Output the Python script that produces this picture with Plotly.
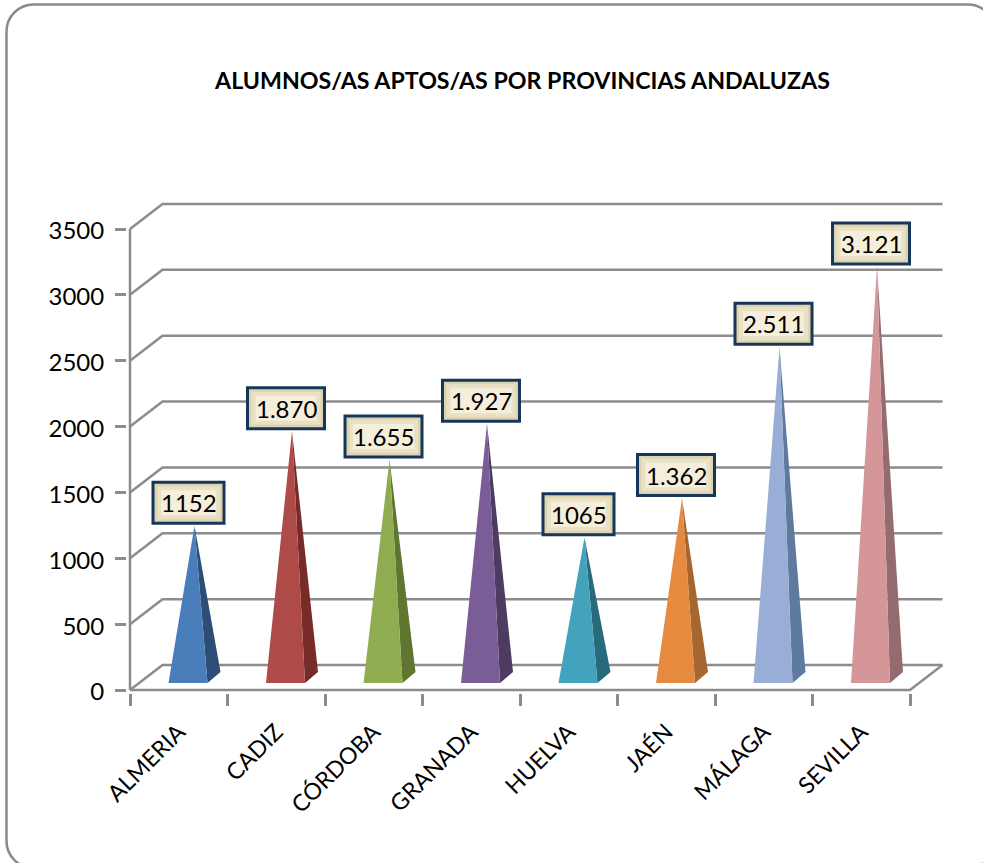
import plotly.graph_objects as go

provinces = ["ALMERIA", "CADIZ", "CÓRDOBA", "GRANADA", "HUELVA", "JAÉN", "MÁLAGA", "SEVILLA"]
aptos = [1152, 1870, 1655, 1927, 1065, 1362, 2511, 3121]
value_labels = ["1152", "1.870", "1.655", "1.927", "1065", "1.362", "2.511", "3.121"]
y_ticks = [0, 500, 1000, 1500, 2000, 2500, 3000, 3500]

front_colors = ["#4a7ebb", "#ae4a47", "#8fad50", "#7a5c97", "#43a3bd", "#e68a3f", "#98aed6", "#d49698"]
side_colors = ["#2c4d75", "#772c2a", "#5f7530", "#4d3b62", "#276a7c", "#a5672f", "#5f7a9f", "#946c6d"]

W, H = 983, 863
FONT = "Lato"
GRID = "#8c8c8c"

# plot box in pixels, the axes map onto it (3px spare so lines are not clipped)
LEFT, RIGHT, BOTTOM, TOP = 130, 943, 690, 204
PAD = 3
PX_X = 97.5            # one category
PX_Y = 461 / 3500      # one unit of value

# wall depth
DEPTH_X = 32.5 / PX_X
DEPTH_Y = 25 / PX_Y
N = len(provinces)

# pyramid base inside a category
BASE_LEFT = 38.5 / PX_X
BASE_W = 39 / PX_X
BASE_DX = 13 / PX_X
BASE_RAISE = 7 / PX_Y
BASE_DY = 11 / PX_Y

fig = go.Figure()

# back wall grid and floor
grid_x, grid_y = [], []
for t in y_ticks:
    grid_x += [0, DEPTH_X, N + DEPTH_X, None]
    grid_y += [t, t + DEPTH_Y, t + DEPTH_Y, None]
grid_x += [N + DEPTH_X, N, 0, None, 0, 0]
grid_y += [DEPTH_Y, 0, 0, None, 0, y_ticks[-1]]
fig.add_trace(go.Scatter(x=grid_x, y=grid_y, mode="lines", line=dict(color=GRID, width=2.5),
                         hoverinfo="skip", showlegend=False))

apex_x, apex_y = [], []
for i, v in enumerate(aptos):
    x0 = i + BASE_LEFT
    x1 = x0 + BASE_W
    x2 = x1 + BASE_DX
    y0 = BASE_RAISE
    y2 = y0 + BASE_DY
    ax = (x0 + x2) / 2
    ay = v + y0 + BASE_DY / 2
    apex_x.append(ax)
    apex_y.append(ay)
    fig.add_trace(go.Scatter(x=[x1, x2, ax, x1], y=[y0, y2, ay, y0], mode="lines", fill="toself",
                             fillcolor=side_colors[i], line=dict(width=0), name=provinces[i],
                             hoverinfo="skip", showlegend=False))
    fig.add_trace(go.Scatter(x=[x0, x1, ax, x0], y=[y0, y0, ay, y0], mode="lines", fill="toself",
                             fillcolor=front_colors[i], line=dict(width=0), name=provinces[i],
                             text=str(v), hoverinfo="text", showlegend=False))

# value labels: bevelled boxes anchored on the apex
for i, lab in enumerate(value_labels):
    half_w = 35.5 if "." not in lab else 38.5
    cx, cy = -6, 23
    rings = [(0, "#ddd3ae", "#17365d", 3), (4, "#e9e1c4", None, 0), (8, "#f4eedb", None, 0)]
    for inset, fill, line, lw in rings:
        fig.add_shape(type="rect", xref="x", yref="y", xsizemode="pixel", ysizemode="pixel",
                      xanchor=apex_x[i], yanchor=apex_y[i],
                      x0=cx - half_w + inset, x1=cx + half_w - inset,
                      y0=cy - 20.5 + inset, y1=cy + 20.5 - inset,
                      fillcolor=fill, line=dict(color=line, width=lw), layer="above")
    fig.add_annotation(x=apex_x[i], y=apex_y[i], xref="x", yref="y", text=lab, showarrow=False,
                       xshift=cx, yshift=cy, font=dict(family=FONT, size=24, color="black"))

# rounded frame, its right and bottom edges run off the picture
fl, fr, ft, fb, r = 6.5, 995, 4.5, 868, 27
k = r * 0.45
def px(x, y):
    return f"{x / W:.5f} {1 - y / H:.5f}"
frame = (f"M {px(fl + r, ft)} L {px(fr - r, ft)} C {px(fr - k, ft)} {px(fr, ft + k)} {px(fr, ft + r)} "
         f"L {px(fr, fb - r)} C {px(fr, fb - k)} {px(fr - k, fb)} {px(fr - r, fb)} "
         f"L {px(fl + r, fb)} C {px(fl + k, fb)} {px(fl, fb - k)} {px(fl, fb - r)} "
         f"L {px(fl, ft + r)} C {px(fl, ft + k)} {px(fl + k, ft)} {px(fl + r, ft)} Z")
fig.add_shape(type="path", xref="paper", yref="paper", path=frame,
              line=dict(color="#8a8a8a", width=2.5), layer="below")

fig.update_layout(
    width=W, height=H,
    margin=dict(l=0, r=0, t=0, b=0, autoexpand=False),
    paper_bgcolor="white", plot_bgcolor="rgba(0,0,0,0)",
    showlegend=False,
    title=dict(text="<b>ALUMNOS/AS APTOS/AS POR PROVINCIAS ANDALUZAS</b>", xref="paper", yref="paper",
               x=522.5 / W, xanchor="center", y=1 - 81 / H, yanchor="middle",
               font=dict(family=FONT, size=23.2, color="black")),
    xaxis=dict(domain=[(LEFT - PAD) / W, (RIGHT + PAD) / W],
               range=[-PAD / PX_X, (RIGHT + PAD - LEFT) / PX_X],
               tickmode="array", tickvals=[i + 0.5 for i in range(N)], ticktext=provinces,
               tickangle=-45, ticks="", showgrid=False, zeroline=False, showline=False,
               tickfont=dict(family=FONT, size=23, color="black"), ticklabelstandoff=20,
               minor=dict(tickmode="array", tickvals=list(range(N + 1)), ticks="outside",
                          ticklen=9 + PAD, tickwidth=2.5, tickcolor=GRID, showgrid=False)),
    yaxis=dict(domain=[1 - (BOTTOM + PAD) / H, 1 - (TOP - PAD) / H],
               range=[-PAD / PX_Y, (BOTTOM - TOP + PAD) / PX_Y],
               tickmode="array", tickvals=y_ticks, ticks="outside", ticklen=8 + PAD, tickwidth=2.5,
               tickcolor=GRID, showgrid=False, zeroline=False, showline=False,
               tickfont=dict(family=FONT, size=24, color="black"), ticklabelstandoff=6,
               ticklabelshift=2),
)

fig.write_html("out.html", config=dict(displayModeBar=False),
               post_script="document.body.style.margin='0';document.body.style.overflow='hidden';")
